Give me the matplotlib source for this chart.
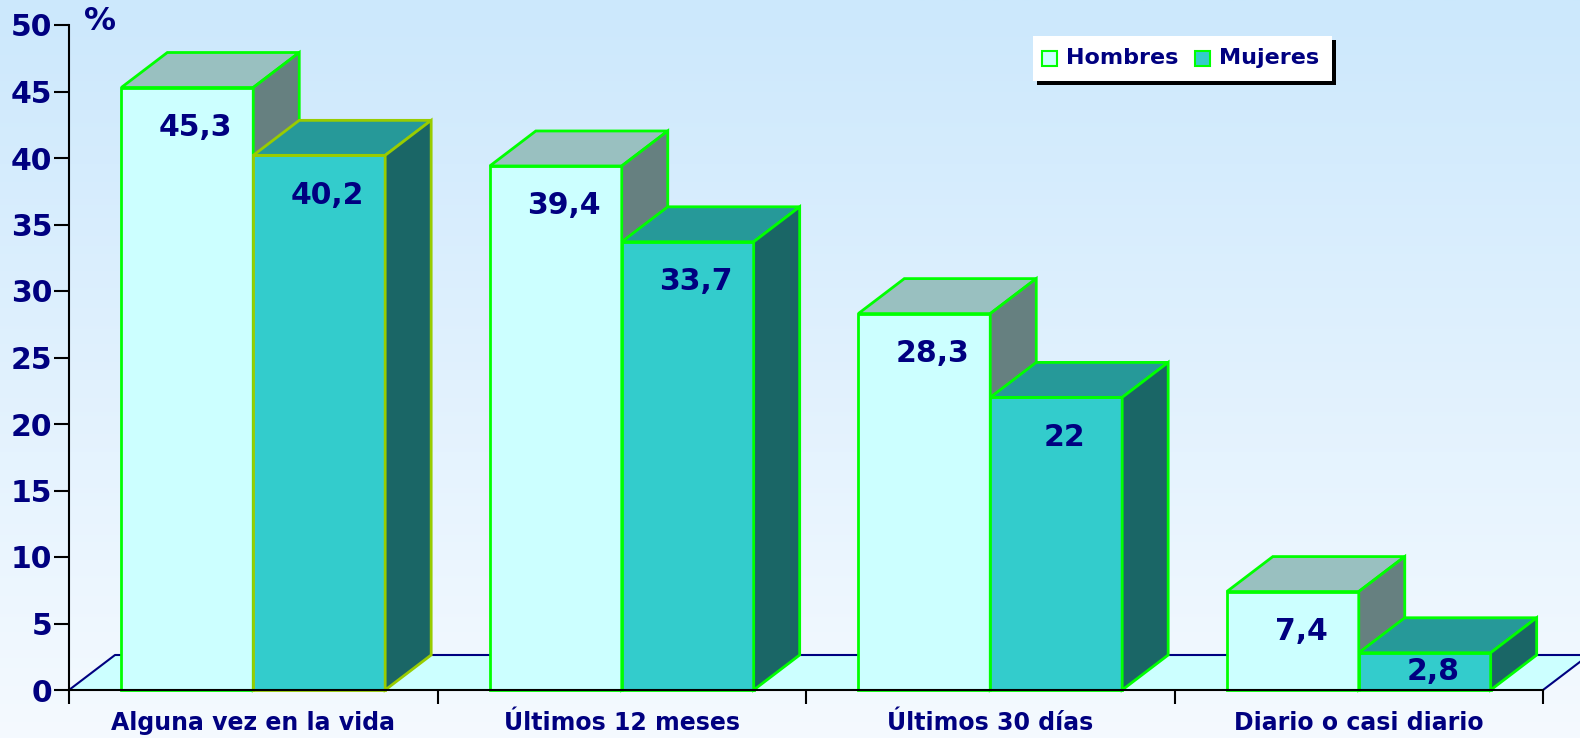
import numpy as np
import matplotlib
matplotlib.use("Agg")
import matplotlib.pyplot as plt
from matplotlib.patches import Polygon, Rectangle

# datos
categorias = ["Alguna vez en la vida", "Últimos 12 meses", "Últimos 30 días", "Diario o casi diario"]
hombres = [45.3, 39.4, 28.3, 7.4]
mujeres = [40.2, 33.7, 22, 2.8]
etiquetas_h = ["45,3", "39,4", "28,3", "7,4"]
etiquetas_m = ["40,2", "33,7", "22", "2,8"]
yticks = list(range(0, 55, 5))

NAVY = "#000080"
W, H = 1580, 738
fig = plt.figure(figsize=(W / 100, H / 100), dpi=100)

# fondo degradado
bg = fig.add_axes([0, 0, 1, 1])
grad = np.linspace(0, 1, 256)[:, None]
top = np.array([0.80, 0.91, 0.99])
bot = np.array([0.96, 0.98, 1.0])
img = top[None, None, :] * (1 - grad[:, :, None]) + bot[None, None, :] * grad[:, :, None]
bg.imshow(img, aspect="auto", extent=[0, 1, 0, 1])
bg.set_axis_off()

# ejes principales (pixeles medidos)
x0, x1, y0, y1 = 69, 1543, 690, 25
ax = fig.add_axes([x0 / W, (H - y0) / H, (x1 - x0) / W, (y0 - y1) / H])
ax.set_xlim(-0.5, 3.5)
ax.set_ylim(0, 50)
ax.patch.set_alpha(0)

px_x = (x1 - x0) / 4.0
px_y = (y0 - y1) / 50.0
dx = 46 / px_x
dy = 35 / px_y

# piso
floor = Polygon([(-0.5, 0), (3.5, 0), (3.5 + dx, dy), (-0.5 + dx, dy)], closed=True,
                facecolor="#ccffff", edgecolor="none", clip_on=False, zorder=1)
ax.add_patch(floor)
ax.plot([-0.5, -0.5 + dx, 3.5 + dx, 3.5], [0, dy, dy, 0], color=NAVY, lw=1.5,
        clip_on=False, zorder=1.5)


def caja(x, w, h, cara, techo, lado, borde, z):
    kw = dict(edgecolor=borde, lw=2, clip_on=False, zorder=z, joinstyle="miter")
    ax.add_patch(Polygon([(x, 0), (x + w, 0), (x + w, h), (x, h)], facecolor=cara, **kw))
    ax.add_patch(Polygon([(x, h), (x + w, h), (x + w + dx, h + dy), (x + dx, h + dy)],
                         facecolor=techo, **kw))
    ax.add_patch(Polygon([(x + w, 0), (x + w + dx, dy), (x + w + dx, h + dy), (x + w, h)],
                         facecolor=lado, **kw))


bw = 0.358
bordes_m = ["#99cc00", "#00ff00", "#00ff00", "#00ff00"]
for i in range(len(categorias)):
    z = 2 + i
    caja(i - bw, bw, hombres[i], "#ccffff", "#99c0c0", "#668080", "#00ff00", z)
    caja(i, bw, mujeres[i], "#33cccc", "#269999", "#1a6666", bordes_m[i], z + 0.5)
    for xc, v, t in [(i - bw / 2, hombres[i], etiquetas_h[i]), (i + bw / 2, mujeres[i], etiquetas_m[i])]:
        ax.text(xc + 0.022, v - min(3.0, v * 0.5), t, ha="center", va="center",
                fontsize=21.5, fontweight="bold", color=NAVY, zorder=20)

# ejes
for s in ["top", "right"]:
    ax.spines[s].set_visible(False)
ax.spines["left"].set_linewidth(1.5)
ax.spines["bottom"].set_linewidth(1.5)
ax.spines["left"].set_zorder(30)
ax.spines["bottom"].set_zorder(30)
ax.set_yticks(yticks)
ax.set_yticklabels([str(v) for v in yticks], fontsize=21.5, fontweight="bold", color=NAVY)
ax.tick_params(axis="y", length=11, width=1.5, pad=1)
ax.set_xticks([-0.5, 0.5, 1.5, 2.5, 3.5])
ax.set_xticklabels([])
ax.tick_params(axis="x", length=10, width=1.5, direction="out")
for i, c in enumerate(categorias):
    ax.text(i, -2.5, c, ha="center", va="center", fontsize=17, fontweight="bold",
            color=NAVY, clip_on=False)

fig.text(100 / W, 1 - 21 / H, "%", ha="center", va="center", fontsize=23,
         fontweight="bold", color=NAVY)

# leyenda con sombra
lx, ly, lw_, lh = 1033, 36, 299, 45
fig.patches.append(Rectangle(((lx + 4) / W, 1 - (ly + lh + 4) / H), lw_ / W, lh / H,
                             transform=fig.transFigure, facecolor="black", edgecolor="none", zorder=40))
fig.patches.append(Rectangle((lx / W, 1 - (ly + lh) / H), lw_ / W, lh / H,
                             transform=fig.transFigure, facecolor="white", edgecolor="none", zorder=41))
for mx, fc, txt in [(1042, "#ccffff", "Hombres"), (1195, "#33cccc", "Mujeres")]:
    fig.patches.append(Rectangle((mx / W, 1 - 66 / H), 15 / W, 15 / H, transform=fig.transFigure,
                                 facecolor=fc, edgecolor="#00ff00", lw=1.5, zorder=42))
    fig.text((mx + 24) / W, 1 - 58 / H, txt, ha="left", va="center", fontsize=16,
             fontweight="bold", color=NAVY, zorder=43)

fig.savefig("out.png", dpi=100)
